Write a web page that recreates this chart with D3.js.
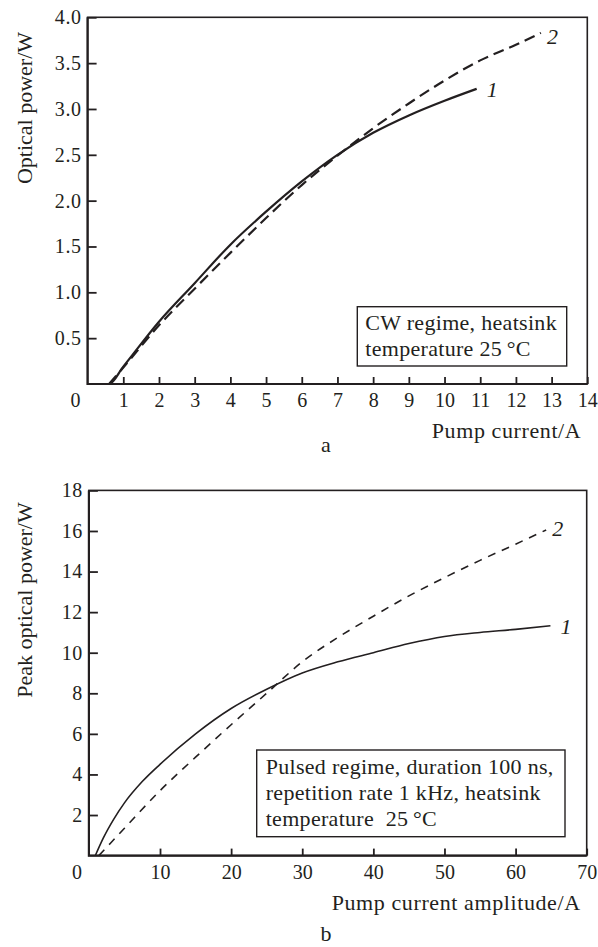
<!DOCTYPE html>
<html><head><meta charset="utf-8">
<script src="https://cdn.jsdelivr.net/npm/d3@7"></script>
<style>
html,body{margin:0;padding:0;background:#fff;}
svg text{font-family:"Liberation Serif","Tinos","Times New Roman",Times,"DejaVu Serif",serif !important;fill:#231f20;}
</style></head>
<body>
<svg id="chart" width="598" height="947" font-family="Liberation Serif, DejaVu Serif, serif"></svg>
<script>
// ---- Panel a (CW regime) ----
const aXTicks = [1,2,3,4,5,6,7,8,9,10,11,12,13,14];
const aYTicks = [0.5,1.0,1.5,2.0,2.5,3.0,3.5,4.0];
const aCurrent1 = [0, 0.6, 1, 2, 3, 4, 5, 6, 7, 8, 9, 10, 10.9];
const aPower1   = [0, 0, 0.19, 0.68, 1.1, 1.52, 1.88, 2.21, 2.5, 2.74, 2.93, 3.09, 3.22];
const aCurrent2 = [0.6, 1, 2, 3, 4, 5, 6, 7, 8, 9, 10, 11, 12, 12.7];
const aPower2   = [0, 0.18, 0.64, 1.04, 1.43, 1.81, 2.17, 2.49, 2.79, 3.06, 3.31, 3.53, 3.70, 3.83];
const aLegend = ["CW regime, heatsink", "temperature 25\u2009°C"];

// ---- Panel b (pulsed regime) ----
const bXTicks = [10,20,30,40,50,60,70];
const bYTicks = [2,4,6,8,10,12,14,16,18];
const bCurrent1 = [0.9, 2, 3.5, 5, 7.5, 10, 15, 20, 25, 30, 35, 40, 45, 50, 55, 60, 64.9];
const bPower1   = [0, 0.85, 1.8, 2.6, 3.65, 4.5, 6.0, 7.25, 8.2, 9.0, 9.55, 10.0, 10.45, 10.8, 11.0, 11.15, 11.33];
const bCurrent2 = [1.4, 3, 5, 10, 15, 20, 25, 30, 35, 40, 45, 50, 55, 60, 64.3];
const bPower2   = [0, 0.6, 1.35, 3.2, 4.85, 6.45, 8.0, 9.55, 10.75, 11.8, 12.8, 13.7, 14.55, 15.35, 16.05];
const bLegend = ["Pulsed regime, duration 100 ns,", "repetition rate 1 kHz, heatsink", "temperature\u00a0 25\u2009°C"];

const ink = "#231f20";
const svg = d3.select("#chart");

function panel(cfg){
  const g = svg.append("g");
  const x = d3.scaleLinear().domain(cfg.xDomain).range([cfg.left, cfg.right]);
  const y = d3.scaleLinear().domain(cfg.yDomain).range([cfg.bottom, cfg.top]);

  const line = d3.line().x(d=>x(d[0])).y(d=>y(d[1])).curve(d3.curveMonotoneX);
  g.append("path").datum(d3.zip(cfg.x2, cfg.y2)).attr("d", line)
    .attr("fill","none").attr("stroke",ink).attr("stroke-width",cfg.lw)
    .attr("stroke-dasharray",cfg.dash);
  g.append("path").datum(d3.zip(cfg.x1, cfg.y1)).attr("d", line)
    .attr("fill","none").attr("stroke",ink).attr("stroke-width",cfg.lw);

  const xa = g.append("g").attr("transform",`translate(0,${cfg.bottom})`)
    .call(d3.axisBottom(x).tickValues(cfg.xTicks).tickSizeInner(-7).tickSizeOuter(0).tickPadding(9).tickFormat(d3.format("d")));
  const ya = g.append("g").attr("transform",`translate(${cfg.left},0)`)
    .call(d3.axisLeft(y).tickValues(cfg.yTicks).tickSizeInner(-9).tickSizeOuter(0).tickPadding(6).tickFormat(cfg.yFmt));
  [xa,ya].forEach(a=>{
    a.attr("font-family",null);
    a.select(".domain").remove();
    a.selectAll("line").attr("stroke",ink).attr("stroke-width",1.8);
    a.selectAll("text").attr("font-size",20).attr("fill",ink);
  });
  ya.selectAll("text").attr("letter-spacing",0.6);
  // frame: top/right thinner, left/bottom heavier
  g.append("rect").attr("x",cfg.left).attr("y",cfg.top)
    .attr("width",cfg.right-cfg.left).attr("height",cfg.bottom-cfg.top)
    .attr("fill","none").attr("stroke",ink).attr("stroke-width",1.6);
  g.append("path").attr("d",`M${cfg.left},${cfg.top}V${cfg.bottom}H${cfg.right}`)
    .attr("fill","none").attr("stroke",ink).attr("stroke-width",2.2);
  g.append("text").attr("x",cfg.left-12).attr("y",cfg.bottom+9).attr("dy","0.71em")
    .attr("text-anchor","middle").attr("font-size",20).text("0");

  g.append("text").attr("transform",`translate(${cfg.yTitleX},${cfg.yTitleY}) rotate(-90)`)
    .attr("text-anchor","middle").attr("font-size",22).text(cfg.yTitle);
  g.append("text").attr("x",cfg.right-6).attr("y",cfg.xTitleY)
    .attr("text-anchor","end").attr("font-size",22).attr("letter-spacing",0.6).text(cfg.xTitle);
  g.append("text").attr("x",cfg.tagX).attr("y",cfg.tagY)
    .attr("text-anchor","middle").attr("font-size",22).text(cfg.tag);

  g.append("text").attr("x",x(cfg.x1[cfg.x1.length-1])+10).attr("y",y(cfg.y1[cfg.y1.length-1])+8)
    .attr("font-size",22).attr("font-style","italic").text("1");
  g.append("text").attr("x",x(cfg.x2[cfg.x2.length-1])+6).attr("y",y(cfg.y2[cfg.y2.length-1])+cfg.lab2dy)
    .attr("font-size",22).attr("font-style","italic").text("2");

  const b = cfg.box;
  g.append("rect").attr("x",b.x).attr("y",b.y).attr("width",b.w).attr("height",b.h)
    .attr("fill","#fff").attr("stroke",ink).attr("stroke-width",1.4);
  cfg.legend.forEach((t,i)=>{
    g.append("text").attr("x",b.x+b.tx).attr("y",b.y+b.ty+i*26)
      .attr("font-size",22).attr("letter-spacing",0.3).text(t);
  });
}

panel({
  xDomain:[0,14], yDomain:[0,4], left:87.6, right:587.3, top:17.3, bottom:384,
  xTicks:aXTicks, yTicks:aYTicks, yFmt:d3.format(".1f"),
  x1:aCurrent1, y1:aPower1, x2:aCurrent2, y2:aPower2, lw:2.2, dash:"11,6", lab2dy:11,
  yTitle:"Optical power/W", yTitleX:32, yTitleY:108,
  xTitle:"Pump current/A", xTitleY:438, tag:"a", tagX:326, tagY:452,
  box:{x:357.3,y:306.7,w:209.4,h:59.3,tx:8,ty:23}, legend:aLegend
});
panel({
  xDomain:[0,70], yDomain:[0,18], left:88.9, right:586.7, top:490.4, bottom:855.6,
  xTicks:bXTicks, yTicks:bYTicks, yFmt:d3.format("d"),
  x1:bCurrent1, y1:bPower1, x2:bCurrent2, y2:bPower2, lw:1.6, dash:"8,7", lab2dy:6,
  yTitle:"Peak optical power/W", yTitleX:32, yTitleY:600,
  xTitle:"Pump current amplitude/A", xTitleY:910, tag:"b", tagX:326, tagY:941,
  box:{x:256.7,y:750,w:308.3,h:86.7,tx:9,ty:24}, legend:bLegend
});
</script>
</body></html>
